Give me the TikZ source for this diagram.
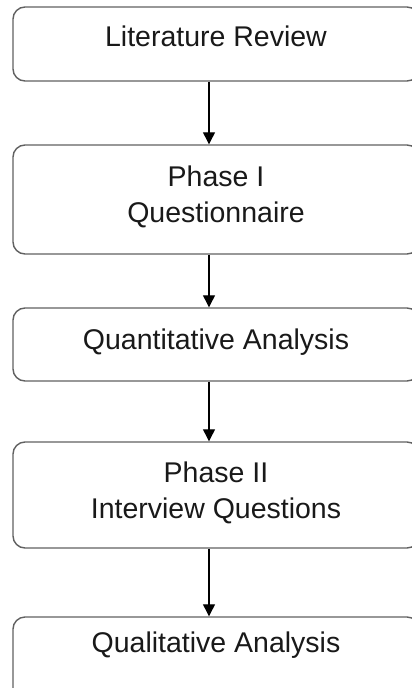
\documentclass[tikz,border=0pt]{standalone}
\usepackage{fontspec}
\setmainfont{Liberation Sans}
\usetikzlibrary{arrows.meta}
\tikzset{
  box/.style={draw=black!62, line width=1.4pt, rounded corners=12pt, minimum width=406pt, inner sep=0pt},
  lbl/.style={anchor=north, inner sep=0pt, align=center, font=\fontsize{28.5}{36}\selectfont, text=black!90},
  arr/.style={-{Triangle[length=12pt,width=12pt]}, line width=1.2pt, black}
}
\begin{document}
\begin{tikzpicture}[x=1pt,y=-1pt]
\useasboundingbox (0,0) rectangle (412,688);
\clip (0,0) rectangle (412,688);
\fill[white] (0,0) rectangle (412,688);
\node[box, minimum height=74pt] (b1) at (216,44) {};
\node[box, minimum height=109pt] (b2) at (216,199.5) {};
\node[box, minimum height=73pt] (b3) at (216,344.5) {};
\node[box, minimum height=106pt] (b4) at (216,495) {};
\node[box, minimum height=90pt] (b5) at (216,662) {};
\node[lbl] (t1) at (216,26) {Literature Review};
\node[lbl] (t2) at (216,166) {Phase I\\Questionnaire};
\node[lbl] (t3) at (216,329) {Quantitative Analysis};
\node[lbl] (t4) at (216,462) {Phase II\\Interview Questions};
\node[lbl] (t5) at (216,632) {Qualitative Analysis};
\coordinate (ax) at (209,0);
\draw[arr] (b1.south -| ax) -- (b2.north -| ax);
\draw[arr] (b2.south -| ax) -- (b3.north -| ax);
\draw[arr] (b3.south -| ax) -- (b4.north -| ax);
\draw[arr] (b4.south -| ax) -- (b5.north -| ax);
\end{tikzpicture}
\end{document}
